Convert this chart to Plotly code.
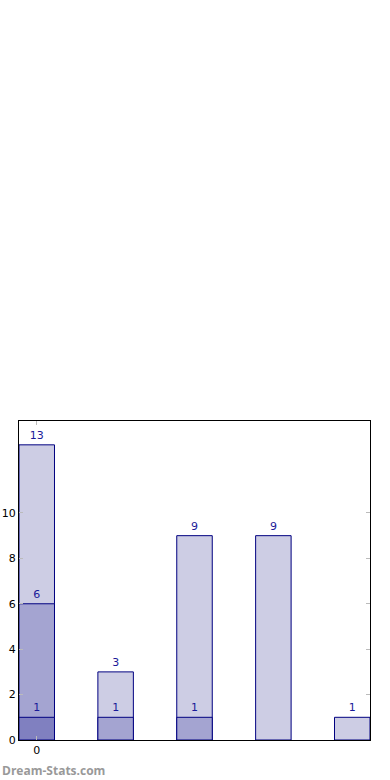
import plotly.graph_objects as go

categories = [0, 1, 2, 3, 4]
tick_labels = ["0"]
series_total = [13, 3, 9, 9, 1]
series_mid = [6, 1, 1, 0, 0]
series_low = [1, 0, 0, 0, 0]

colors = ["#cdcde4", "#a4a4d1", "#8080c0"]
outline = "#000080"
text_color = "#1a1a99"
bar_w = 0.45

fig = go.Figure()
for vals, col in [(series_total, colors[0]), (series_mid, colors[1]), (series_low, colors[2])]:
    xs = [c for c, v in zip(categories, vals) if v > 0]
    ys = [v for v in vals if v > 0]
    fig.add_trace(go.Bar(
        x=xs, y=ys, width=bar_w,
        marker=dict(color=col, line=dict(color=outline, width=1)),
        text=[str(v) for v in ys], textposition="outside",
        textfont=dict(family="DejaVu Sans", size=11, color=text_color),
        cliponaxis=False, showlegend=False, hoverinfo="skip",
    ))

fig.update_layout(
    width=390, height=780,
    margin=dict(l=19, r=20, t=421, b=40),
    barmode="overlay",
    plot_bgcolor="white", paper_bgcolor="white",
    font=dict(family="DejaVu Sans", size=11, color="black"),
    uniformtext=dict(minsize=11, mode="show"),
)
fig.update_xaxes(
    range=[-bar_w / 2, categories[-1] + bar_w / 2],
    tickmode="array", tickvals=categories[:1], ticktext=tick_labels,
    ticks="inside", ticklen=4, tickcolor="#bbbbbb",
    showline=True, linecolor="black", linewidth=1, mirror="ticks",
    showgrid=False, zeroline=False, automargin=False,
)
fig.update_yaxes(
    range=[0, 14.05],
    tickmode="array", tickvals=[0, 2, 4, 6, 8, 10],
    ticks="inside", ticklen=4, tickcolor="#bbbbbb",
    showline=True, linecolor="black", linewidth=1, mirror="ticks",
    showgrid=False, zeroline=False, automargin=False,
)
fig.add_annotation(
    text="<b>Dream-Stats.com</b>", xref="paper", yref="paper",
    x=-19 / 351, y=-30 / 319, xanchor="left", yanchor="middle",
    showarrow=False, font=dict(family="Open Sans", size=12, color="#999999"),
)
fig.write_html("out.html", config={"displayModeBar": False},
               post_script="document.body.style.margin='0';")
